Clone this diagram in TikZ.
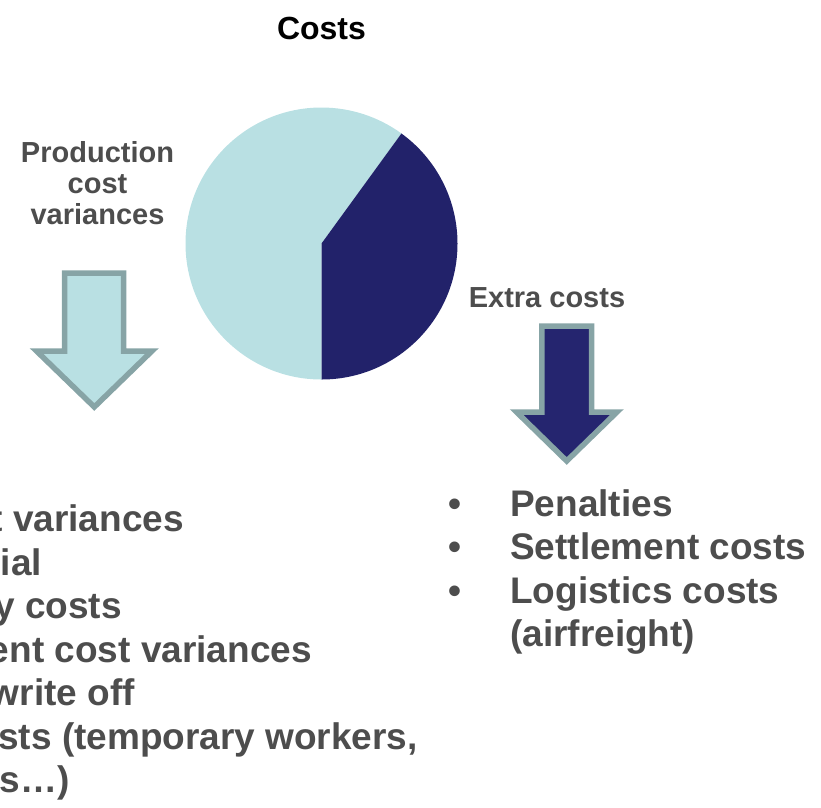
\documentclass[tikz,border=0pt]{standalone}
\usepackage{fontspec}
\setmainfont{Liberation Sans}
\begin{document}
\begin{tikzpicture}[x=1pt,y=-1pt,
  line join=miter,
  lightslice/.style={fill=pielight},
  darkslice/.style={fill=piedark},
  arrowshape/.style={draw=arrowedge,line width=5.5pt},
  heading/.style={font=\fontsize{29}{31}\selectfont\bfseries,text=textgrey,inner sep=0pt,align=center},
  listtext/.style={font=\fontsize{37}{43.5}\selectfont\bfseries,text=textgrey,inner sep=0pt},
]
\definecolor{pielight}{HTML}{B9E0E3}
\definecolor{piedark}{HTML}{22226A}
\definecolor{arrowdark}{HTML}{25256F}
\definecolor{arrowedge}{HTML}{87A4A6}
\definecolor{textgrey}{HTML}{4D4D4D}

\useasboundingbox (0,0) rectangle (821,807);
\clip (0,0) rectangle (821,807);

% title
\node[font=\fontsize{32}{36}\selectfont\bfseries,inner sep=0pt,anchor=base] (title) at (321.5,39) {Costs};

% pie chart: 60% light, 40% dark
\coordinate (pc) at (321.5,243.5);
\fill[lightslice] (pc) -- ++(90:136) arc[start angle=90,end angle=306,radius=136] -- cycle;
\fill[darkslice] (pc) -- ++(90:136) arc[start angle=90,end angle=-54,radius=136] -- cycle;

% headings (base = baseline of the last line)
\node[heading,anchor=base] (prodhead) at (97.5,224) {Production\\cost\\variances};
\node[heading,anchor=base] (extrahead) at (547,307) {Extra costs};

% block arrows
\draw[arrowshape,fill=pielight] (64.5,273) -- (123.5,273) -- (123.5,351) -- (152,351)
  -- (94.3,407) -- (36.5,351) -- (64.5,351) -- cycle;
\draw[arrowshape,fill=arrowdark] (541.8,326) -- (591.5,326) -- (591.5,412) -- (617,412)
  -- (566.7,461) -- (516.5,412) -- (541.8,412) -- cycle;

% left list (runs past the left edge)
\node[listtext,anchor=base east] (l1) at (184,531.7) {t variances};
\node[listtext,anchor=base east] (l2) at (42.3,575.2) {rial};
\node[listtext,anchor=base east] (l3) at (122,618.7) {y costs};
\node[listtext,anchor=base east] (l4) at (312,662.2) {ent cost variances};
\node[listtext,anchor=base east] (l5) at (135,705.7) {write off};
\node[listtext,anchor=base east] (l6) at (418,749.2) {sts (temporary workers,};
\node[listtext,anchor=base east] (l7) at (70,792.7) {ts…)};

% right list
\node[listtext,anchor=base west] (r1) at (448,516) {\makebox[62pt][l]{•}Penalties};
\node[listtext,anchor=base west] (r2) at (448,559.5) {\makebox[62pt][l]{•}Settlement costs};
\node[listtext,anchor=base west] (r3) at (448,603) {\makebox[62pt][l]{•}Logistics costs};
\node[listtext,anchor=base west] (r4) at (448,646.5) {\hspace*{62pt}(airfreight)};
\end{tikzpicture}
\end{document}
